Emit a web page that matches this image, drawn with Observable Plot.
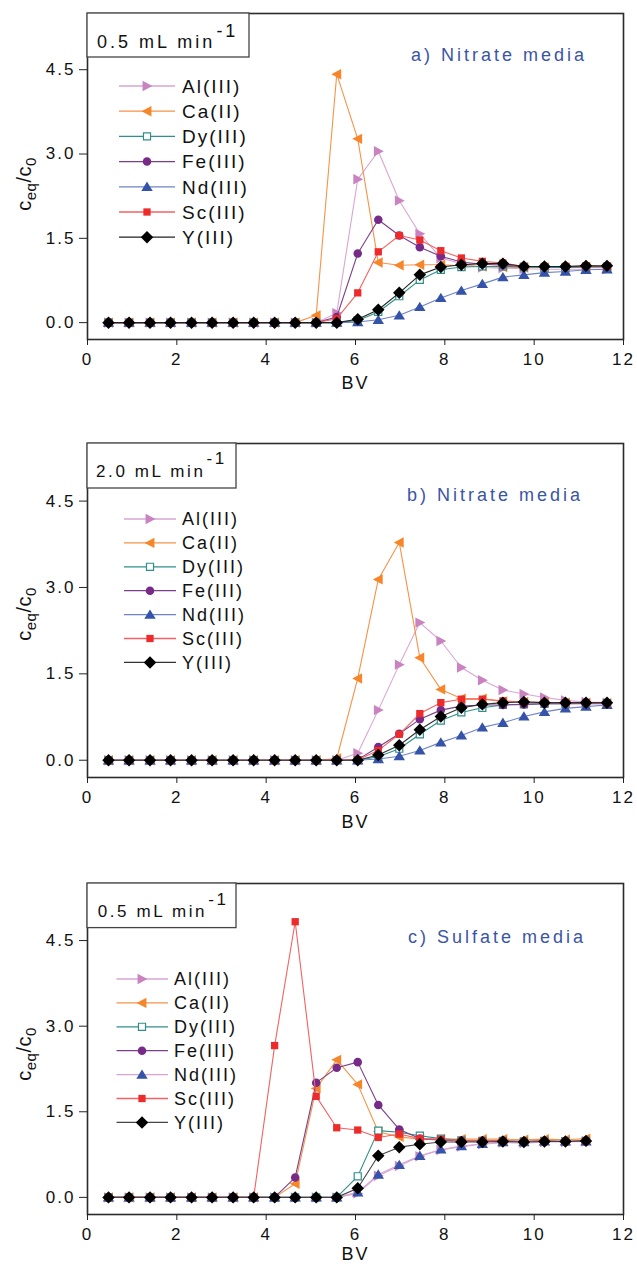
<!DOCTYPE html>
<html><head><meta charset="utf-8">
<script src="https://cdn.jsdelivr.net/npm/d3@7"></script>
<script src="https://cdn.jsdelivr.net/npm/@observablehq/plot@0.6"></script>
<style>
body{margin:0;background:#fff;}
#chart{position:relative;width:637px;height:1275px;}
.panel{position:absolute;left:0;}
</style>
</head><body><div id="chart"></div>
<script>
// ---------- data ----------
const BV = [0.47,0.93,1.40,1.86,2.33,2.79,3.26,3.72,4.19,4.65,5.12,5.58,6.05,6.51,6.98,7.44,7.91,8.37,8.84,9.30,9.77,10.23,10.70,11.16,11.63];
const species = ["Al(III)","Ca(II)","Dy(III)","Fe(III)","Nd(III)","Sc(III)","Y(III)"];
const xTicks = [0,2,4,6,8,10,12];
const yTicks = [0,1.5,3.0,4.5];
const panelTitles = ["a) Nitrate media","b) Nitrate media","c) Sulfate media"];
const flowRates = ["0.5 mL min","2.0 mL min","0.5 mL min"];
const flowExp = "-1";
const xLabel = "BV";

// a) nitrate, 0.5 mL/min
const a_Al = [0,0,0,0,0,0,0,0,0,0,0.00,0.17,2.55,3.05,2.17,1.58,1.15,1.05,0.98,0.97,0.96,0.95,0.95,0.95,0.95];
const a_Ca = [0,0,0,0,0,0,0,0,0,0,0.13,4.42,3.27,1.07,1.02,1.03,1.03,1.01,1.00,0.99,0.98,0.98,0.98,0.99,0.99];
const a_Dy = [0,0,0,0,0,0,0,0,0,0,0,0,0.04,0.19,0.47,0.76,0.94,0.99,1.00,1.00,0.99,0.98,0.98,0.99,0.99];
const a_Fe = [0,0,0,0,0,0,0,0,0,0,0,0.10,1.23,1.83,1.55,1.34,1.18,1.08,1.04,1.02,1.00,1.00,1.00,1.00,1.00];
const a_Nd = [0,0,0,0,0,0,0,0,0,0,0,0,0.01,0.05,0.13,0.28,0.44,0.57,0.69,0.81,0.85,0.89,0.91,0.94,0.95];
const a_Sc = [0,0,0,0,0,0,0,0,0,0,0,0.07,0.53,1.26,1.55,1.47,1.28,1.15,1.09,1.06,1.00,1.00,1.00,1.01,1.00];
const a_Y  = [0,0,0,0,0,0,0,0,0,0,0,0,0.06,0.23,0.53,0.85,0.99,1.03,1.05,1.05,1.00,1.00,1.00,1.01,1.01];
// b) nitrate, 2.0 mL/min
const b_Al = [0,0,0,0,0,0,0,0,0,0,0,0,0.12,0.87,1.66,2.39,2.07,1.61,1.39,1.22,1.15,1.09,1.04,1.01,1.00];
const b_Ca = [0,0,0,0,0,0,0,0,0,0,0,0.03,1.42,3.14,3.78,1.78,1.23,1.07,1.07,1.02,1.01,1.00,1.00,1.00,0.99];
const b_Dy = [0,0,0,0,0,0,0,0,0,0,0,0,0,0.06,0.20,0.45,0.69,0.83,0.91,0.96,0.97,0.98,0.98,0.99,0.99];
const b_Fe = [0,0,0,0,0,0,0,0,0,0,0,0,0.01,0.23,0.46,0.71,0.87,0.94,0.96,0.96,0.97,0.98,0.98,0.98,0.98];
const b_Nd = [0,0,0,0,0,0,0,0,0,0,0,0,0,0.02,0.07,0.17,0.31,0.43,0.57,0.65,0.76,0.84,0.90,0.93,0.96];
const b_Sc = [0,0,0,0,0,0,0,0,0,0,0,0,0.01,0.17,0.45,0.81,1.00,1.06,1.06,1.03,1.01,1.00,1.00,1.00,0.99];
const b_Y  = [0,0,0,0,0,0,0,0,0,0,0,0,0,0.09,0.26,0.53,0.76,0.91,0.97,1.00,1.01,1.00,1.00,1.00,1.00];
// c) sulfate, 0.5 mL/min
const c_Al = [0,0,0,0,0,0,0,0,0,0,0,0,0.07,0.38,0.55,0.72,0.83,0.89,0.93,0.96,0.95,0.97,0.97,0.98];
const c_Ca = [0,0,0,0,0,0,0,0,0,0.24,1.91,2.41,1.98,1.15,1.06,1.02,1.02,1.02,1.02,1.02,1.01,1.02,1.01,1.03];
const c_Dy = [0,0,0,0,0,0,0,0,0,0,0,0,0.37,1.17,1.14,1.08,1.03,1.00,0.99,0.99,0.98,0.99,0.98,0.99];
const c_Fe = [0,0,0,0,0,0,0,0,0,0.35,2.01,2.27,2.37,1.62,1.19,1.03,1.00,0.99,0.99,0.99,0.98,0.99,0.98,0.99];
const c_Nd = [0,0,0,0,0,0,0,0,0,0,0,0,0.09,0.40,0.57,0.73,0.84,0.90,0.94,0.97,0.97,0.98,0.98,0.98];
const c_Sc = [0,0,0,0,0,0,0,0,2.66,4.83,1.77,1.22,1.18,1.05,1.11,1.03,1.02,0.99,0.99,0.99,0.98,0.99,0.98,0.99];
const c_Y  = [0,0,0,0,0,0,0,0,0,0,0,0,0.16,0.73,0.88,0.93,0.97,0.97,0.97,0.98,0.97,0.98,0.98,0.99];

const panelSeries = [
  [a_Al,a_Ca,a_Dy,a_Fe,a_Nd,a_Sc,a_Y],
  [b_Al,b_Ca,b_Dy,b_Fe,b_Nd,b_Sc,b_Y],
  [c_Al,c_Ca,c_Dy,c_Fe,c_Nd,c_Sc,c_Y]
];

// ---------- styling ----------
const FONT = "'Liberation Sans', Arial, Helvetica, sans-serif";
const mk = (f) => ({draw(c, s){ const r = Math.sqrt(s/Math.PI); f(c, r); }});
const symbols = [
  mk((c,r)=>{c.moveTo(r*1.05,0);c.lineTo(-r*0.85,-r);c.lineTo(-r*0.85,r);c.closePath();}),   // right triangle
  mk((c,r)=>{c.moveTo(-r*1.05,0);c.lineTo(r*0.85,-r);c.lineTo(r*0.85,r);c.closePath();}),    // left triangle
  mk((c,r)=>{const h=r*0.68;c.rect(-h,-h,2*h,2*h);}),                                         // square (open)
  mk((c,r)=>{const q=r*0.82;c.moveTo(q,0);c.arc(0,0,q,0,2*Math.PI);}),                        // circle
  mk((c,r)=>{c.moveTo(0,-r*1.0);c.lineTo(r*1.1,r*0.8);c.lineTo(-r*1.1,r*0.8);c.closePath();}),// up triangle
  mk((c,r)=>{const h=r*0.7;c.rect(-h,-h,2*h,2*h);}),                                          // square
  mk((c,r)=>{const h=r*1.2;c.moveTo(0,-h);c.lineTo(h,0);c.lineTo(0,h);c.lineTo(-h,0);c.closePath();}) // diamond
];
const markFill   = ["#c883c0","#f7862a","#ffffff","#782a88","#3553a8","#ee2b2b","#000000"];
const markStroke = ["none","none","#2f8f8a","none","none","none","none"];
const lineColor  = [
  ["#d9a6d3","#f59348","#2f8f8a","#7d3e8b","#6f84c6","#f26262","#222222"],
  ["#d9a6d3","#f59348","#2f8f8a","#7d3e8b","#6f84c6","#f26262","#333333"],
  ["#d9a6d3","#f59348","#2f8f8a","#7d3e8b","#d7a3d1","#f26262","#444444"]
];

// layout per panel
const layout = [
  {top:0,   height:430, mb:91, box:{w:162,h:44}, boxFont:18, boxLs:3.0, boxX:97, boxBase:48, supBase:37,
   title:{x:411,y:55}, leg:{y0:86, dy:25.2, x1:119, x2:175, xm:147, xt:182, fs:19}, ylab:184, bvdy:49},
  {top:430, height:440, mb:93, box:{w:149,h:45}, boxFont:17, boxLs:2.6, boxX:96, boxBase:47, supBase:34,
   title:{x:407,y:65}, leg:{y0:89, dy:23.9, x1:124, x2:176, xm:150, xt:182, fs:18}, ylab:184, bvdy:50},
  {top:870, height:405, mb:61, box:{w:149,h:44.6}, boxFont:17, boxLs:2.6, boxX:97.7, boxBase:47.3, supBase:34.5,
   title:{x:408,y:66.7}, leg:{y0:109, dy:23.9, x1:116.5, x2:168, xm:142, xt:174, fs:18}, ylab:184, bvdy:45}
];

const chart = document.getElementById("chart");

layout.forEach((L, p) => {
  const rows = [];
  panelSeries[p].forEach((vals, s) => vals.forEach((v, i) => rows.push({bv: BV[i], v, s})));
  const marks = [];
  species.forEach((name, s) => {
    const d = rows.filter(r => r.s === s);
    marks.push(Plot.line(d, {x:"bv", y:"v", stroke: lineColor[p][s], strokeWidth: 1.1}));
    marks.push(Plot.dot(d, {x:"bv", y:"v", r:5.2, symbol: symbols[s], fill: markFill[s],
      stroke: markStroke[s], strokeWidth: markStroke[s] === "none" ? 0 : 1.2}));
  });
  marks.push(Plot.frame({stroke:"#2b2b2b", strokeWidth:1.6}));
  marks.push(Plot.axisY({ticks: yTicks, tickFormat: d => d.toFixed(1), tickSize: 8, tickPadding: 4,
    fontSize: 17, label: null, stroke:"#222"}));
  marks.push(Plot.axisX({ticks: xTicks, tickFormat: d => String(d), tickSize: 6, tickPadding: 7,
    fontSize: 17, label: null, stroke:"#222"}));
  marks.push(Plot.text([xLabel], {frameAnchor:"bottom", dy: L.bvdy, fontSize: 18, fill:"#111"}));

  const svg = Plot.plot({
    width: 637, height: L.height,
    marginLeft: 87, marginRight: 14, marginTop: 13, marginBottom: L.mb,
    x: {domain:[0,12]},
    y: {domain:[-0.3,5.5]},
    style: {fontFamily: FONT, fontSize: "17px", color:"#111", background:"#fff", overflow:"visible"},
    marks
  });
  const wrap = document.createElement("div");
  wrap.className = "panel";
  wrap.style.top = L.top + "px";
  wrap.appendChild(svg);
  chart.appendChild(wrap);

  const root = d3.select(svg);
  root.selectAll("text").attr("letter-spacing", "2px");

  const g = root.append("g").attr("font-family", FONT).attr("text-anchor", "start");
  // flow rate box
  g.append("rect").attr("x", 87).attr("y", 13).attr("width", L.box.w).attr("height", L.box.h)
    .attr("fill", "#fff").attr("stroke", "#444").attr("stroke-width", 1.3);
  const bt = g.append("text").attr("x", L.boxX).attr("y", L.boxBase).attr("text-anchor", "start")
    .attr("font-size", L.boxFont).attr("letter-spacing", L.boxLs + "px").attr("fill", "#111");
  bt.append("tspan").text(flowRates[p]);
  bt.append("tspan").attr("dy", -(L.boxBase - L.supBase)).attr("dx", 1).text(flowExp);
  // title
  g.append("text").attr("x", L.title.x).attr("y", L.title.y).attr("dy", "0.36em").attr("text-anchor", "start")
    .attr("font-size", 18).attr("letter-spacing", "3px").attr("fill", "#3a55a5").text(panelTitles[p]);
  // legend
  species.forEach((name, s) => {
    const y = L.leg.y0 + s * L.leg.dy;
    g.append("line").attr("x1", L.leg.x1).attr("x2", L.leg.x2).attr("y1", y).attr("y2", y)
      .attr("stroke", lineColor[p][s]).attr("stroke-width", 1.3);
    g.append("path").attr("transform", `translate(${L.leg.xm},${y})`)
      .attr("d", d3.symbol(symbols[s], Math.PI * 27)())
      .attr("fill", markFill[s]).attr("stroke", markStroke[s])
      .attr("stroke-width", markStroke[s] === "none" ? 0 : 1.2);
    g.append("text").attr("x", L.leg.xt).attr("y", y).attr("dy", "0.36em").attr("text-anchor", "start")
      .attr("font-size", L.leg.fs).attr("letter-spacing", "2px").attr("fill", "#111").text(name);
  });
  // y label c_eq / c_0
  const yl = g.append("text").attr("transform", `translate(31,${L.ylab}) rotate(-90)`)
    .attr("text-anchor", "middle").attr("font-size", 20).attr("letter-spacing", "0.5px").attr("fill", "#111");
  yl.append("tspan").text("c");
  yl.append("tspan").attr("font-size", 15).attr("dy", 5).text("eq");
  yl.append("tspan").attr("dy", -5).text("/c");
  yl.append("tspan").attr("font-size", 15).attr("dy", 5).text("0");
});
</script>
</body></html>
